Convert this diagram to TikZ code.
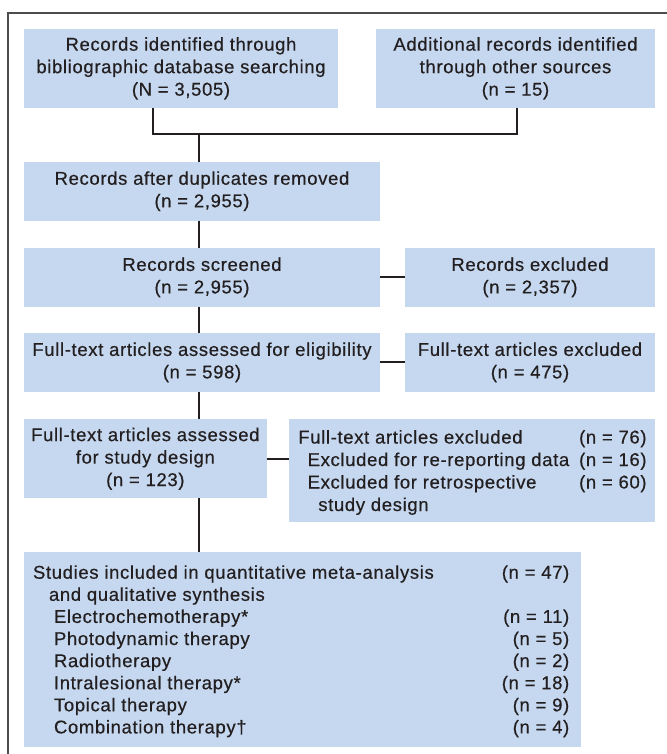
\documentclass[tikz,border=0pt]{standalone}
\usepackage{fontspec}
\setmainfont{Liberation Sans}[LetterSpace=3.5,FakeBold=0.5]
\definecolor{boxblue}{RGB}{198,216,239}
\definecolor{txt}{RGB}{35,31,32}
\begin{document}
\begin{tikzpicture}[x=1pt,y=-1pt,
  box/.style={fill=boxblue, draw=none, inner sep=0pt, outer sep=0pt, align=center, text=txt,
    font=\fontsize{18.5}{22.5}\selectfont},
  lab/.style={inner sep=0pt, outer sep=0pt, text=txt, font=\fontsize{18.5}{22.5}\selectfont},
  conn/.style={draw=txt, line width=2.2pt},
  framel/.style={draw=black!70, line width=1.3pt}]
\useasboundingbox (0,0) rectangle (666,754);
\fill[white] (0,0) rectangle (666,754);
\draw[framel] (667,13) -- (8,13) -- (8,755);

% boxes
\node[box, minimum width=314pt, minimum height=78.7pt] (b1) at (181,68.35)
  {Records identified through\\bibliographic database searching\\(N = 3,505)};
\node[box, minimum width=279pt, minimum height=78.7pt] (b2) at (515.5,68.35)
  {Additional records identified\\through other sources\\(n = 15)};
\node[box, minimum width=356pt, minimum height=59pt] (b3) at (202,191.2)
  {Records after duplicates removed\\(n = 2,955)};
\node[box, minimum width=356pt, minimum height=58.7pt] (b4) at (202,277.35)
  {Records screened\\(n = 2,955)};
\node[box, minimum width=250pt, minimum height=58.7pt] (e4) at (530,277.35)
  {Records excluded\\(n = 2,357)};
\node[box, minimum width=356pt, minimum height=58.7pt] (b5) at (202,362.35)
  {Full-text articles assessed for eligibility\\(n = 598)};
\node[box, minimum width=250pt, minimum height=58.7pt] (e5) at (530,362.35)
  {Full-text articles excluded\\(n = 475)};
\node[box, minimum width=242.7pt, minimum height=79pt] (b6) at (145.35,458.8)
  {Full-text articles assessed\\for study design\\(n = 123)};
\node[box, minimum width=365.7pt, minimum height=102.4pt] (e6) at (472.15,470.5) {};
\node[box, minimum width=556.7pt, minimum height=194.7pt] (b7) at (302.35,649.35) {};

% texts of the excluded box
\node[lab, anchor=base west] (e6a) at (298.3,443.5) {Full-text articles excluded};
\node[lab, anchor=base west] (e6b) at (307.7,466) {Excluded for re-reporting data};
\node[lab, anchor=base west] (e6c) at (307.7,488.5) {Excluded for retrospective};
\node[lab, anchor=base west] (e6d) at (318.3,511) {study design};
\node[lab, anchor=base east] (e6n1) at (646.6,443.5) {(n = 76)};
\node[lab, anchor=base east] (e6n2) at (646.6,466) {(n = 16)};
\node[lab, anchor=base east] (e6n3) at (646.6,488.5) {(n = 60)};

% texts of the included box
\node[lab, anchor=base west] (s1) at (33,578.7) {Studies included in quantitative meta-analysis};
\node[lab, anchor=base west] (s2) at (49,600.8) {and qualitative synthesis};
\node[lab, anchor=base west] (s3) at (54,622.9) {Electrochemotherapy*};
\node[lab, anchor=base west] (s4) at (54,645) {Photodynamic therapy};
\node[lab, anchor=base west] (s5) at (54,667.1) {Radiotherapy};
\node[lab, anchor=base west] (s6) at (54,689.2) {Intralesional therapy*};
\node[lab, anchor=base west] (s7) at (54,711.3) {Topical therapy};
\node[lab, anchor=base west] (s8) at (54,733.4) {Combination therapy†};
\node[lab, anchor=base east] (n1) at (569.3,578.7) {(n = 47)};
\node[lab, anchor=base east] (n3) at (569.3,622.9) {(n = 11)};
\node[lab, anchor=base east] (n4) at (569.3,645) {(n = 5)};
\node[lab, anchor=base east] (n5) at (569.3,667.1) {(n = 2)};
\node[lab, anchor=base east] (n6) at (569.3,689.2) {(n = 18)};
\node[lab, anchor=base east] (n7) at (569.3,711.3) {(n = 9)};
\node[lab, anchor=base east] (n8) at (569.3,733.4) {(n = 4)};

% connectors
\coordinate (cL) at (152.7,134.3);
\coordinate (cR) at (516.7,134.3);
\coordinate (j) at (199.3,134.3);
\draw[conn, line join=miter] (b1.south -| cL) -- (cL) -- (cR) -- (b2.south -| cR);
\draw[conn] (j) -- (j |- b3.north);
\draw[conn] (j |- b3.south) -- (j |- b4.north);
\draw[conn] (j |- b4.south) -- (j |- b5.north);
\draw[conn] (j |- b5.south) -- (j |- b6.north);
\draw[conn] (j |- b6.south) -- (j |- b7.north);
\draw[conn] (b4.east) -- (e4.west);
\draw[conn] (b5.east) -- (e5.west);
\draw[conn] (b6.east) -- (b6.east -| e6.west);
\end{tikzpicture}
\end{document}
